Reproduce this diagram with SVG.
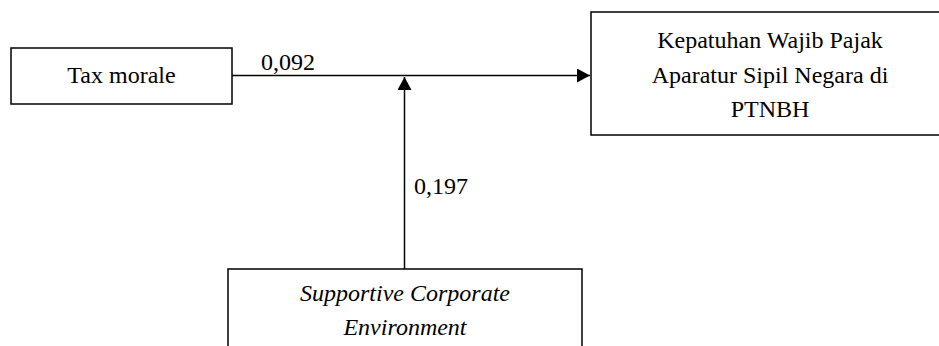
<svg xmlns="http://www.w3.org/2000/svg" width="939" height="346" viewBox="0 0 939 346">
<style>
.box{fill:#fff;stroke:#000;stroke-width:1.5}
.t{font-family:"Liberation Serif","Times New Roman",serif;font-size:24px;fill:#000}
.c{text-anchor:middle}
.i{font-style:italic}
.ln{stroke:#000;stroke-width:1.5;fill:none}
</style>
<defs>
<marker id="ah" markerWidth="13" markerHeight="14" refX="13" refY="7" orient="auto" markerUnits="userSpaceOnUse">
<path d="M0,0 L13,7 L0,14 Z" fill="#000"/>
</marker>
</defs>
<rect width="939" height="346" fill="#fff"/>
<g id="connectors">
<line class="ln" x1="232" y1="75.5" x2="590" y2="75.5" marker-end="url(#ah)"/>
<line class="ln" x1="404.5" y1="269" x2="404.5" y2="77" marker-end="url(#ah)"/>
<text class="t" x="261" y="70">0,092</text>
<text class="t" x="414" y="194">0,197</text>
</g>
<g id="tax-morale">
<rect class="box" x="11" y="48" width="221" height="56"/>
<text class="t c" x="121.5" y="83">Tax morale</text>
</g>
<g id="kepatuhan">
<rect class="box" x="591" y="12" width="360" height="123"/>
<text class="t c" x="770" y="48">Kepatuhan Wajib Pajak</text>
<text class="t c" x="770" y="83">Aparatur Sipil Negara di</text>
<text class="t c" x="770" y="117">PTNBH</text>
</g>
<g id="supportive">
<rect class="box" x="228" y="269" width="354" height="100"/>
<text class="t c i" x="405" y="301">Supportive Corporate</text>
<text class="t c i" x="405" y="335">Environment</text>
</g>
</svg>
